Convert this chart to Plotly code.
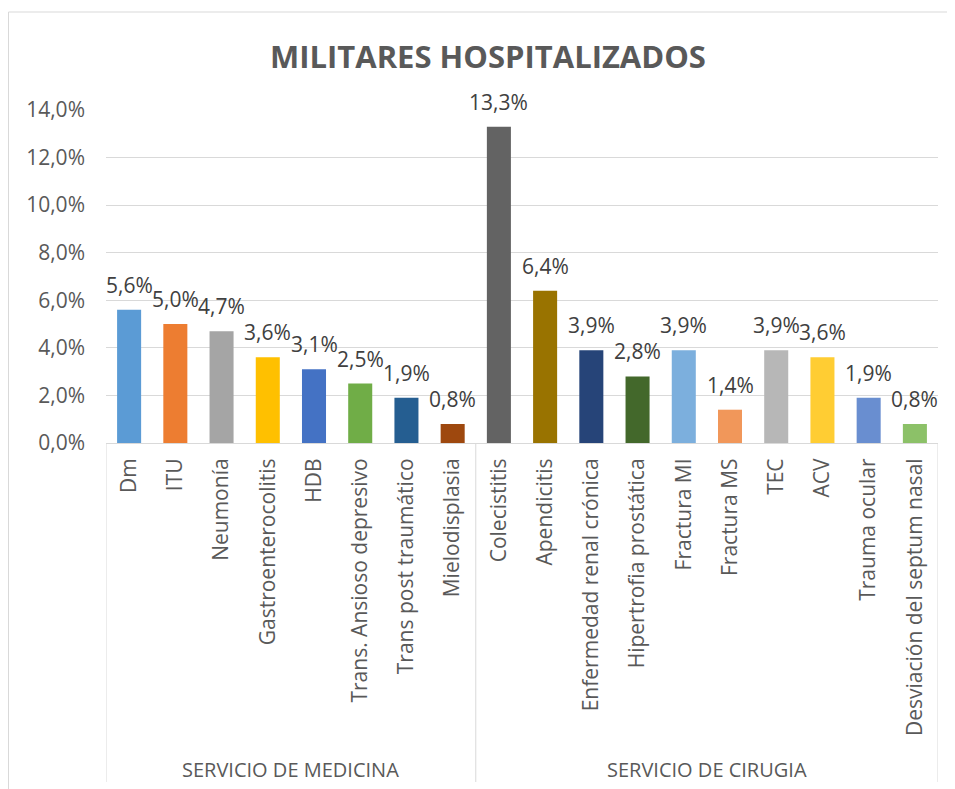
import plotly.graph_objects as go

groups = ["SERVICIO DE MEDICINA", "SERVICIO DE CIRUGIA"]
medicina_cats = ["Dm", "ITU", "Neumonía", "Gastroenterocolitis", "HDB",
                 "Trans. Ansioso depresivo", "Trans post traumático", "Mielodisplasia"]
medicina_vals = [5.6, 5.0, 4.7, 3.6, 3.1, 2.5, 1.9, 0.8]
cirugia_cats = ["Colecistitis", "Apendicitis", "Enfermedad renal crónica",
                "Hipertrofia prostática", "Fractura MI", "Fractura MS", "TEC", "ACV",
                "Trauma ocular", "Desviación del septum nasal"]
cirugia_vals = [13.3, 6.4, 3.9, 2.8, 3.9, 1.4, 3.9, 3.6, 1.9, 0.8]
y_ticks = [0, 2, 4, 6, 8, 10, 12, 14]

medicina_colors = ["#5B9BD5", "#ED7D31", "#A5A5A5", "#FFC000", "#4472C4",
                   "#70AD47", "#255E91", "#9E480E"]
cirugia_colors = ["#636363", "#997300", "#264478", "#43682B", "#7CAFDD",
                  "#F1975A", "#B7B7B7", "#FFCD33", "#698ED0", "#8CC168"]

cats = medicina_cats + cirugia_cats
vals = medicina_vals + cirugia_vals
colors = medicina_colors + cirugia_colors


def pct(v):
    return f"{v:.1f}%".replace(".", ",")


FONT = "Open Sans"
OFF = 8  # page body margin
W, H = 955 - OFF, 789 - OFF
L, T = 106 - OFF, 110 - OFF
R = W - (938 - OFF)
B = H - (443 - OFF)
PH = H - T - B
PW = W - L - R


def py(screen_y):
    return (H - B - (screen_y - OFF)) / PH


def px(screen_x):
    return ((screen_x - OFF) - L) / PW


fig = go.Figure()
fig.add_trace(go.Bar(
    x=list(range(len(cats))), y=vals,
    marker=dict(color=colors, line=dict(width=0)),
    width=0.52, hoverinfo="y",
))

annotations = []
for i, v in enumerate(vals):
    annotations.append(dict(
        x=i, y=v, xref="x", yref="y", text=pct(v),
        showarrow=False, yanchor="bottom", yshift=9,
        font=dict(family=FONT, size=21, color="#404040"),
    ))

n1 = len(medicina_cats)
n2 = len(cirugia_cats)
group_spans = [(-0.5, n1 - 0.5), (n1 - 0.5, n1 + n2 - 0.5)]
for g, (a, b) in zip(groups, group_spans):
    annotations.append(dict(
        x=(a + b) / 2, y=py(769), xref="x", yref="paper", text=g,
        showarrow=False, yanchor="middle",
        font=dict(family=FONT, size=20, color="#595959"),
    ))

shapes = []
for xpos in [group_spans[0][0], group_spans[0][1], group_spans[1][1]]:
    shapes.append(dict(type="line", xref="x", yref="paper", x0=xpos, x1=xpos,
                       y0=0, y1=py(782), line=dict(color="#D9D9D9", width=1)))
# outer chart border (left and top)
shapes.append(dict(type="line", xref="paper", yref="paper",
                   x0=px(8.5), x1=px(960), y0=py(12), y1=py(12),
                   line=dict(color="#D9D9D9", width=1)))
shapes.append(dict(type="line", xref="paper", yref="paper",
                   x0=px(8.5), x1=px(8.5), y0=py(12), y1=py(800),
                   line=dict(color="#D9D9D9", width=1)))

fig.update_layout(
    width=W, height=H,
    margin=dict(l=L, r=R, t=T, b=B, autoexpand=False),
    paper_bgcolor="white", plot_bgcolor="white",
    separators=", ",
    showlegend=False,
    title=dict(text="<b>MILITARES HOSPITALIZADOS</b>", x=(488 - OFF) / W,
               xanchor="center", y=1 - (57 - OFF) / H, yanchor="middle",
               yref="container",
               font=dict(family=FONT, size=31, color="#595959")),
    xaxis=dict(
        tickmode="array", tickvals=list(range(len(cats))), ticktext=cats,
        range=[-0.5, len(cats) - 0.5], tickangle=-90, ticks="",
        ticklabelstandoff=6,
        tickfont=dict(family=FONT, size=21, color="#595959"),
        showline=True, linecolor="#D9D9D9", linewidth=1, showgrid=False,
        zeroline=False,
    ),
    yaxis=dict(
        range=[0, 14], tickmode="array", tickvals=y_ticks,
        ticktext=[pct(t) for t in y_ticks],
        tickfont=dict(family=FONT, size=21, color="#595959"),
        showgrid=True, gridcolor="#D9D9D9", gridwidth=1, zeroline=False,
        showline=False, ticks="", ticklabelstandoff=20,
    ),
    annotations=annotations, shapes=shapes,
)

fig.write_html("out.html")
